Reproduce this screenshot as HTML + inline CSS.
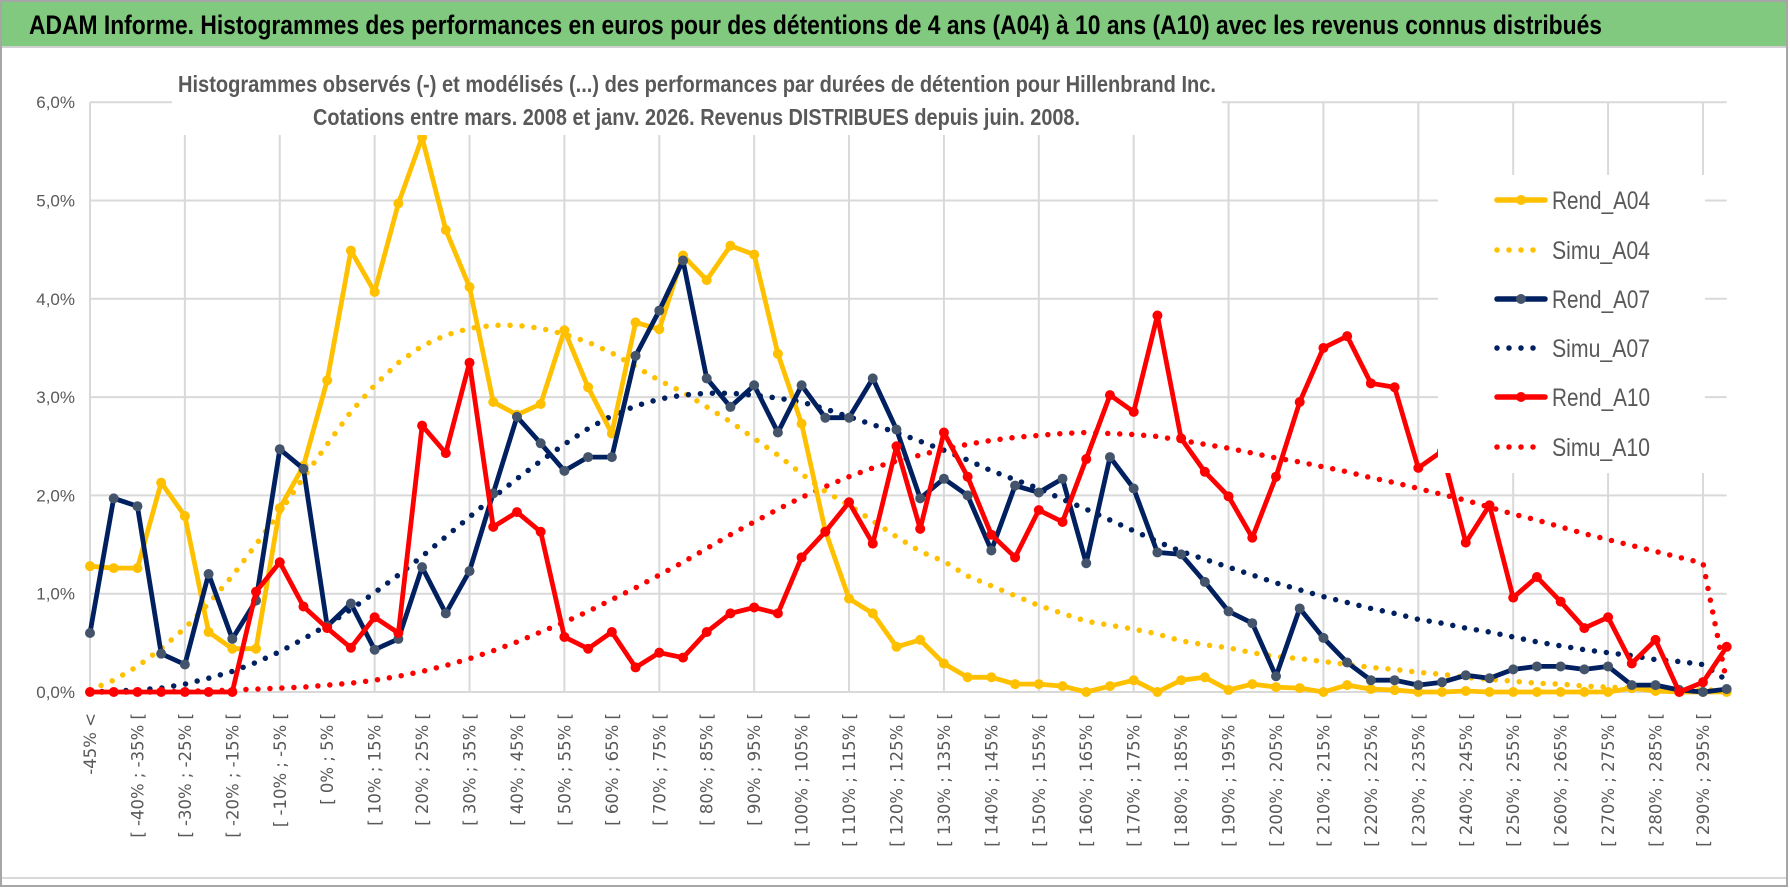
<!DOCTYPE html>
<html><head><meta charset="utf-8">
<style>
html,body{margin:0;padding:0;background:#fff;}
svg{display:block;}
</style></head>
<body>
<svg id="chart" width="1790" height="888" viewBox="0 0 1790 888" xmlns="http://www.w3.org/2000/svg">
  <rect x="0" y="0" width="1790" height="888" fill="#ffffff"/>
  <rect x="1" y="1" width="1786" height="885" fill="none" stroke="#a6a6a6" stroke-width="2"/>
  <rect x="2" y="2" width="1784" height="44" fill="#80c97f"/>
  <line x1="2" y1="47" x2="1786" y2="47" stroke="#d0d0d0" stroke-width="2"/>
  <text x="29" y="34" font-family="'Liberation Sans Narrow','Liberation Sans',sans-serif" font-weight="bold" font-size="27" fill="#000" textLength="1573" lengthAdjust="spacingAndGlyphs">ADAM Informe. Histogrammes des performances en euros pour des détentions de 4 ans (A04) à 10 ans (A10) avec les revenus connus distribués</text>
  <line x1="2" y1="878" x2="1786" y2="878" stroke="#d9d9d9" stroke-width="2"/>
  <g id="grid"></g>
  <g id="series"></g>
  <rect x="172" y="60" width="1050" height="75" fill="#fff"/>
  <text x="178" y="92" font-family="'Liberation Sans Narrow','Liberation Sans',sans-serif" font-weight="bold" font-size="23" fill="#595959" textLength="1038" lengthAdjust="spacingAndGlyphs">Histogrammes observés (-) et modélisés (...) des performances par durées de détention pour Hillenbrand Inc.</text>
  <text x="313" y="125" font-family="'Liberation Sans Narrow','Liberation Sans',sans-serif" font-weight="bold" font-size="23" fill="#595959" textLength="767" lengthAdjust="spacingAndGlyphs">Cotations entre mars. 2008 et janv. 2026. Revenus DISTRIBUES depuis juin. 2008.</text>
  <g id="legend"></g>
  <g id="axes"></g>
</svg>
<script>
const categories = ["-45% <","[ -45% ; -40% [","[ -40% ; -35% [","[ -35% ; -30% [","[ -30% ; -25% [","[ -25% ; -20% [","[ -20% ; -15% [","[ -15% ; -10% [","[ -10% ; -5% [","[ -5% ; 0% [","[ 0% ; 5% [","[ 5% ; 10% [","[ 10% ; 15% [","[ 15% ; 20% [","[ 20% ; 25% [","[ 25% ; 30% [","[ 30% ; 35% [","[ 35% ; 40% [","[ 40% ; 45% [","[ 45% ; 50% [","[ 50% ; 55% [","[ 55% ; 60% [","[ 60% ; 65% [","[ 65% ; 70% [","[ 70% ; 75% [","[ 75% ; 80% [","[ 80% ; 85% [","[ 85% ; 90% [","[ 90% ; 95% [","[ 95% ; 100% [","[ 100% ; 105% [","[ 105% ; 110% [","[ 110% ; 115% [","[ 115% ; 120% [","[ 120% ; 125% [","[ 125% ; 130% [","[ 130% ; 135% [","[ 135% ; 140% [","[ 140% ; 145% [","[ 145% ; 150% [","[ 150% ; 155% [","[ 155% ; 160% [","[ 160% ; 165% [","[ 165% ; 170% [","[ 170% ; 175% [","[ 175% ; 180% [","[ 180% ; 185% [","[ 185% ; 190% [","[ 190% ; 195% [","[ 195% ; 200% [","[ 200% ; 205% [","[ 205% ; 210% [","[ 210% ; 215% [","[ 215% ; 220% [","[ 220% ; 225% [","[ 225% ; 230% [","[ 230% ; 235% [","[ 235% ; 240% [","[ 240% ; 245% [","[ 245% ; 250% [","[ 250% ; 255% [","[ 255% ; 260% [","[ 260% ; 265% [","[ 265% ; 270% [","[ 270% ; 275% [","[ 275% ; 280% [","[ 280% ; 285% [","[ 285% ; 290% [","[ 290% ; 295% [","[ 295% ; 300% ["];
const yTicks = [0,1,2,3,4,5,6];
const yTickLabels = ["0,0%","1,0%","2,0%","3,0%","4,0%","5,0%","6,0%"];
const rendA04 = [1.28,1.26,1.26,2.13,1.79,0.61,0.44,0.44,1.87,2.30,3.17,4.49,4.07,4.97,5.64,4.70,4.12,2.95,2.82,2.93,3.68,3.10,2.63,3.76,3.69,4.44,4.19,4.54,4.45,3.44,2.73,1.64,0.95,0.80,0.46,0.53,0.29,0.15,0.15,0.08,0.08,0.06,0.00,0.06,0.12,0.00,0.12,0.15,0.02,0.08,0.05,0.04,0.00,0.07,0.03,0.02,0.00,0.00,0.01,0.00,0.00,0.00,0.00,0.00,0.00,0.04,0.01,0.00,0.00,0.00];
const simuA04 = [0.02,0.12,0.26,0.44,0.65,0.90,1.18,1.50,1.83,2.18,2.52,2.85,3.12,3.35,3.52,3.63,3.70,3.73,3.73,3.70,3.64,3.56,3.45,3.31,3.17,3.05,2.90,2.75,2.58,2.41,2.22,2.04,1.90,1.74,1.58,1.43,1.33,1.18,1.08,0.98,0.88,0.80,0.72,0.68,0.64,0.59,0.52,0.48,0.45,0.40,0.36,0.34,0.31,0.28,0.25,0.23,0.20,0.18,0.15,0.13,0.11,0.09,0.08,0.06,0.05,0.04,0.03,0.03,0.02,0.02];
const rendA07 = [0.60,1.97,1.89,0.39,0.28,1.20,0.54,0.93,2.47,2.27,0.67,0.90,0.43,0.54,1.27,0.80,1.23,2.02,2.80,2.53,2.25,2.39,2.39,3.42,3.88,4.39,3.19,2.90,3.12,2.64,3.12,2.79,2.79,3.19,2.67,1.97,2.17,2.00,1.44,2.10,2.03,2.17,1.31,2.39,2.07,1.42,1.40,1.12,0.82,0.70,0.16,0.85,0.55,0.30,0.12,0.12,0.07,0.10,0.17,0.14,0.23,0.26,0.26,0.23,0.26,0.07,0.07,0.02,0.00,0.03];
const simuA07 = [0.00,0.01,0.02,0.04,0.08,0.14,0.21,0.30,0.41,0.54,0.68,0.84,1.01,1.19,1.38,1.58,1.78,1.98,2.17,2.35,2.52,2.68,2.81,2.91,2.98,3.02,3.04,3.04,3.02,2.99,2.95,2.88,2.80,2.72,2.64,2.55,2.46,2.36,2.25,2.16,2.07,1.96,1.86,1.75,1.64,1.53,1.43,1.35,1.27,1.19,1.11,1.04,0.97,0.91,0.85,0.80,0.74,0.70,0.65,0.61,0.56,0.51,0.47,0.43,0.40,0.37,0.33,0.31,0.28,0.12];
const rendA10 = [0,0,0,0,0,0,0,1.02,1.32,0.87,0.65,0.45,0.76,0.60,2.71,2.43,3.35,1.68,1.83,1.63,0.56,0.44,0.61,0.25,0.40,0.35,0.61,0.80,0.86,0.80,1.37,1.63,1.93,1.51,2.50,1.66,2.64,2.19,1.60,1.37,1.85,1.73,2.37,3.02,2.85,3.83,2.58,2.24,1.99,1.57,2.19,2.95,3.50,3.62,3.14,3.10,2.28,2.45,1.52,1.90,0.96,1.17,0.92,0.65,0.76,0.29,0.53,0.00,0.10,0.46];
const simuA10 = [0,0,0,0,0.01,0.01,0.02,0.03,0.04,0.05,0.07,0.09,0.12,0.16,0.21,0.27,0.34,0.42,0.51,0.61,0.71,0.82,0.94,1.06,1.19,1.32,1.46,1.60,1.73,1.86,1.98,2.09,2.19,2.28,2.35,2.41,2.47,2.52,2.56,2.59,2.61,2.63,2.64,2.63,2.62,2.60,2.56,2.52,2.48,2.43,2.38,2.34,2.29,2.24,2.18,2.13,2.07,2.01,1.95,1.88,1.81,1.75,1.68,1.61,1.55,1.49,1.43,1.37,1.31,0.10];
const seriesNames = ["Rend_A04","Simu_A04","Rend_A07","Simu_A07","Rend_A10","Simu_A10"];

const NS = "http://www.w3.org/2000/svg";
const X0 = 90, XSTEP = 23.72, Y0 = 692, YUNIT = 98.3;
function xAt(i){ return X0 + i * XSTEP; }
function yAt(v){ return Y0 - v * YUNIT; }
function mk(tag, attrs, parent){
  const e = document.createElementNS(NS, tag);
  for (const k in attrs) e.setAttribute(k, attrs[k]);
  parent.appendChild(e);
  return e;
}
const grid = document.getElementById('grid');
const axes = document.getElementById('axes');
const seriesG = document.getElementById('series');
const legend = document.getElementById('legend');
const XEND = xAt(categories.length - 1);

yTicks.forEach((t, i) => {
  const gl = mk('line', {x1: X0, x2: XEND, y1: yAt(t), y2: yAt(t), stroke: '#d9d9d9', 'stroke-width': 2}, grid);
  
  
  const tl = mk('text', {x: 75, y: yAt(t) + 6, 'text-anchor': 'end', 'font-family': "'Liberation Sans Narrow','Liberation Sans',sans-serif", 'font-size': 17, fill: '#595959'}, axes);
  tl.textContent = yTickLabels[i];
  
  
});
categories.forEach((c, i) => {
  if (i % 4 === 0) {
    const vl = mk('line', {x1: xAt(i), x2: xAt(i), y1: yAt(6), y2: Y0, stroke: '#d9d9d9', 'stroke-width': 2}, grid);
    
    
  }
  if (i % 2 === 0) {
    const x = xAt(i) + 6, y = 713;
    const tl = mk('text', {x: x, y: y, 'text-anchor': 'end', transform: `rotate(-90 ${x} ${y})`, 'font-family': "'DejaVu Sans',sans-serif", 'font-size': 16.5, fill: '#595959'}, axes);
    tl.textContent = c;
    
    
  }
});

const cfg = [
  {data: rendA04, color: '#ffc000', mcol: '#ffc000', dotted: false},
  {data: simuA04, color: '#ffc000', dotted: true},
  {data: rendA07, color: '#002060', mcol: '#44546a', dotted: false},
  {data: simuA07, color: '#002060', dotted: true},
  {data: rendA10, color: '#ff0000', mcol: '#ff0000', dotted: false},
  {data: simuA10, color: '#ff0000', dotted: true}
];
const drawOrder = [1, 3, 5, 0, 2, 4];
drawOrder.forEach(si => {
  const s = cfg[si];
  const pts = s.data.map((v, i) => xAt(i).toFixed(1) + ',' + yAt(v).toFixed(1)).join(' ');
  const attrs = {points: pts, fill: 'none', stroke: s.color, 'stroke-linejoin': 'round', 'stroke-linecap': 'round'};
  if (s.dotted) { attrs['stroke-width'] = 5.5; attrs['stroke-dasharray'] = '0 12'; }
  else { attrs['stroke-width'] = 4.8; }
  const pl = mk('polyline', attrs, seriesG);
  
  
  if (!s.dotted) {
    s.data.forEach((v, i) => {
      const c = mk('circle', {cx: xAt(i), cy: yAt(v), r: 5, fill: s.mcol}, seriesG);
      
      
    });
  }
});

const lb = mk('rect', {x: 1438, y: 175, width: 267, height: 298, fill: '#ffffff'}, legend);


const legY = [200, 250, 299, 348, 397, 447];
seriesNames.forEach((n, i) => {
  const s = cfg[i];
  const y = legY[i];
  const l = mk('line', {x1: 1497, x2: 1545, y1: y, y2: y, stroke: s.color, 'stroke-width': 5.5, 'stroke-linecap': 'round'}, legend);
  if (s.dotted) l.setAttribute('stroke-dasharray', '0 12');
  
  
  if (!s.dotted) {
    const c = mk('circle', {cx: 1521, cy: y, r: 5, fill: s.mcol}, legend);
    
    
  }
  const t = mk('text', {x: 1552, y: y + 9, 'font-family': "'Liberation Sans Narrow','Liberation Sans',sans-serif", 'font-size': 25, fill: '#595959', textLength: 98, lengthAdjust: 'spacingAndGlyphs'}, legend);
  t.textContent = n;
  
  
});
</script>
</body></html>
